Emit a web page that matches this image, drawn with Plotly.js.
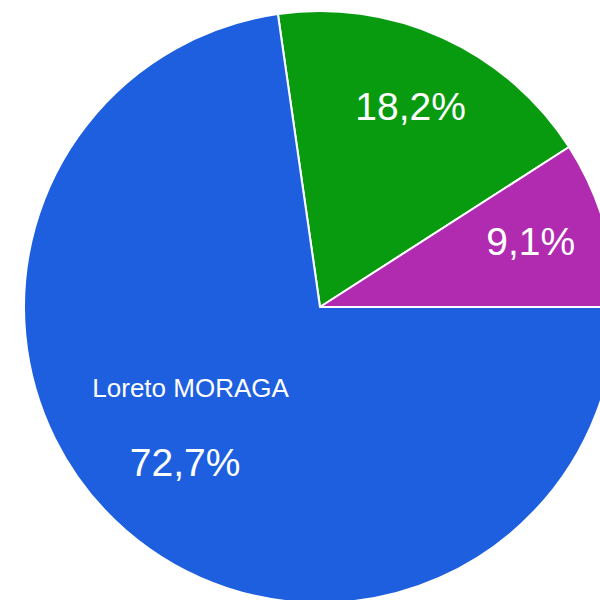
<!DOCTYPE html>
<html>
<head>
<meta charset="utf-8">
<script src="https://cdn.plot.ly/plotly-3.0.1.min.js"></script>
<style>
html,body{margin:0;padding:0;overflow:hidden;background:#fff;width:600px;height:600px;}
#chart{width:616px;height:603px;}
</style>
</head>
<body>
<div id="chart"></div>
<script>
const labels = ["Opción A", "Opción B", "Loreto MORAGA"];
const values = [2, 1, 8];
const colors = ["#089b10", "#b12bb1", "#1e5fe0"];
const NB = "\u00a0";
const templates = [
  NB + NB + "%{percent:.1%}<br>" + NB,
  "%{percent:.1%}" + NB + NB,
  NB + "<br>" + NB + "<br><span style='font-size:26px'>%{label}" + NB.repeat(9) + "</span>" + "<br>".repeat(5) +
    "<span style='font-size:39px'>%{percent:.1%}" + NB.repeat(7) + "</span>"
];

const trace = {
  type: "pie",
  labels: labels,
  values: values,
  sort: false,
  direction: "clockwise",
  rotation: -8.18,
  marker: {colors: colors, line: {color: "#ffffff", width: 2}},
  texttemplate: templates,
  textposition: "inside",
  insidetextorientation: "horizontal",
  textfont: {family: "Arial, 'Liberation Sans', sans-serif", size: [39, 39, 12.2], color: "#ffffff"},
  hoverinfo: "label+percent",
  showlegend: false
};

const layout = {
  width: 616,
  height: 603,
  margin: {l: 24, r: 0, t: 11, b: 0, pad: 0},
  paper_bgcolor: "#ffffff",
  separators: ",.",
  showlegend: false
};

Plotly.newPlot("chart", [trace], layout, {displayModeBar: false, staticPlot: true});
</script>
</body>
</html>
